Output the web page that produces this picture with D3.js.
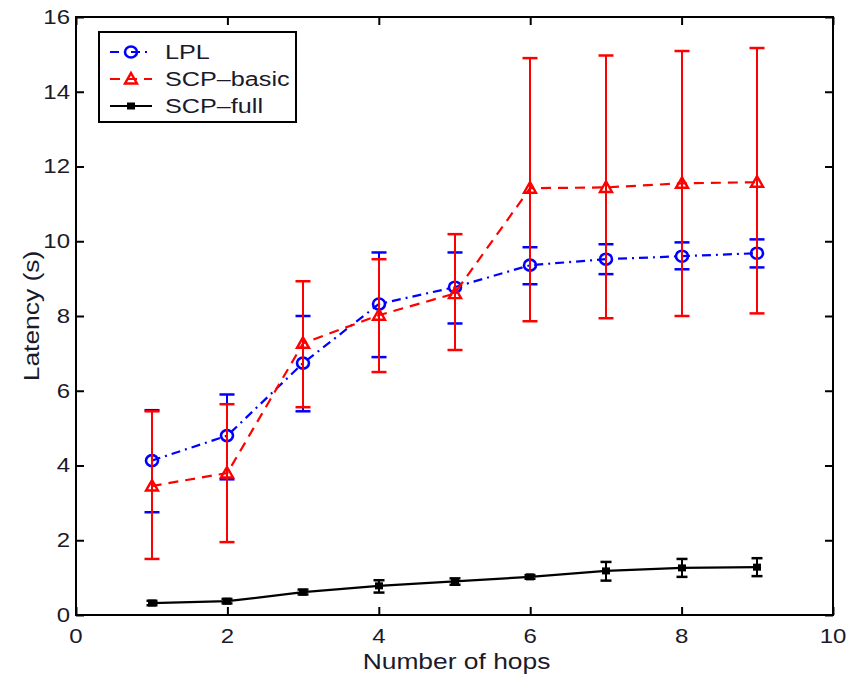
<!DOCTYPE html>
<html>
<head>
<meta charset="utf-8">
<script src="https://cdn.jsdelivr.net/npm/d3@7"></script>
<style>
  body { margin: 0; background: #fff; }
  text { font-family: "Liberation Sans", Arial, sans-serif; fill: #1a1a2a; }
</style>
</head>
<body>
<div id="viz"></div>
<script>
var hops = [1, 2, 3, 4, 5, 6, 7, 8, 9];

var lplMean = [4.13, 4.8, 6.74, 8.32, 8.77, 9.36, 9.52, 9.6, 9.68];
var lplLow  = [2.75, 3.63, 5.45, 6.9, 7.8, 8.85, 9.12, 9.25, 9.3];
var lplHigh = [5.48, 5.9, 8.0, 9.7, 9.7, 9.84, 9.92, 9.97, 10.05];

var basicMean = [3.45, 3.8, 7.27, 8.02, 8.6, 11.42, 11.44, 11.55, 11.58];
var basicLow  = [1.5, 1.95, 5.56, 6.5, 7.09, 7.86, 7.94, 8.0, 8.07];
var basicHigh = [5.45, 5.64, 8.93, 9.52, 10.19, 14.9, 14.97, 15.09, 15.17];

var fullMean = [0.32, 0.37, 0.61, 0.78, 0.9, 1.02, 1.18, 1.26, 1.28];
var fullLow  = [0.26, 0.31, 0.55, 0.6, 0.81, 0.97, 0.92, 1.02, 1.04];
var fullHigh = [0.38, 0.43, 0.68, 0.93, 0.98, 1.07, 1.42, 1.5, 1.52];

var xTicks = [0, 2, 4, 6, 8, 10];
var yTicks = [0, 2, 4, 6, 8, 10, 12, 14, 16];
var seriesNames = ["LPL", "SCP\u2013basic", "SCP\u2013full"];

var W = 850, H = 675;
var plotL = 76, plotR = 833, plotT = 17, plotB = 615;
var stretch = 1.2;   // the original text is a bit wide

var x = d3.scaleLinear().domain([0, 10]).range([plotL, plotR]);
var y = d3.scaleLinear().domain([0, 16]).range([plotB, plotT]);

var svg = d3.select("#viz").append("svg").attr("width", W).attr("height", H);

// stretched text helper
function label(g, tx, ty, str, size, anchor, rot) {
    var t = g.append("g")
        .attr("transform", "translate(" + tx + "," + ty + ")" + (rot ? " rotate(" + rot + ")" : "") + " scale(" + stretch + ",1)")
        .append("text")
        .attr("text-anchor", anchor)
        .attr("dominant-baseline", "central")
        .attr("font-size", size)
        .text(str);
    return t;
}

// axes, ticks pointing inward on all four sides
var ax = svg.append("g");
ax.append("g").attr("transform", "translate(0," + plotB + ")")
    .call(d3.axisBottom(x).tickValues(xTicks).tickSize(-8).tickFormat(""));
ax.append("g").attr("transform", "translate(0," + plotT + ")")
    .call(d3.axisTop(x).tickValues(xTicks).tickSize(-8).tickFormat(""));
ax.append("g").attr("transform", "translate(" + plotL + ",0)")
    .call(d3.axisLeft(y).tickValues(yTicks).tickSize(-8).tickFormat(""));
ax.append("g").attr("transform", "translate(" + plotR + ",0)")
    .call(d3.axisRight(y).tickValues(yTicks).tickSize(-8).tickFormat(""));
ax.selectAll(".domain").remove();
ax.selectAll("line").attr("stroke", "#000").attr("stroke-width", 2);
ax.append("rect")
    .attr("x", plotL).attr("y", plotT)
    .attr("width", plotR - plotL).attr("height", plotB - plotT)
    .attr("fill", "none").attr("stroke", "#000").attr("stroke-width", 2);

var lab = svg.append("g");
xTicks.forEach(function(v) { label(lab, x(v), 636, v, 20, "middle"); });
yTicks.forEach(function(v) { label(lab, 70, y(v), v, 20, "end"); });
label(lab, (plotL + plotR) / 2 + 2, 661, "Number of hops", 22, "middle");
label(lab, 31, (plotT + plotB) / 2, "Latency (s)", 22, "middle", -90);

var series = [
    {name: seriesNames[0], mean: lplMean, low: lplLow, high: lplHigh, color: "#0000ff", dash: "9,5,2,5", marker: "circle", cap: 15},
    {name: seriesNames[1], mean: basicMean, low: basicLow, high: basicHigh, color: "#ff0000", dash: "10,7", marker: "triangle", cap: 15},
    {name: seriesNames[2], mean: fullMean, low: fullLow, high: fullHigh, color: "#000000", dash: null, marker: "x", cap: 11}
];

function drawMarker(g, kind, cx, cy, color) {
    if (kind == "circle") {
        g.append("ellipse").attr("cx", cx).attr("cy", cy).attr("rx", 6).attr("ry", 5.5)
            .attr("fill", "none").attr("stroke", color).attr("stroke-width", 2.6);
    } else if (kind == "triangle") {
        g.append("path")
            .attr("d", "M" + cx + "," + (cy - 6) + "L" + (cx + 6) + "," + (cy + 4.5) + "L" + (cx - 6) + "," + (cy + 4.5) + "Z")
            .attr("fill", "none").attr("stroke", color).attr("stroke-width", 2.4);
    } else {
        g.append("rect").attr("x", cx - 4).attr("y", cy - 3.5).attr("width", 8).attr("height", 7)
            .attr("fill", color);
    }
}

var line = d3.line().x(function(d, i) { return x(hops[i]); }).y(function(d) { return y(d); });

// draw black first, then blue, red on top
[2, 0, 1].forEach(function(k) {
    var s = series[k];
    var g = svg.append("g");
    hops.forEach(function(h, i) {
        var px = Math.round(x(h));
        g.append("line").attr("x1", px).attr("x2", px)
            .attr("y1", y(s.low[i])).attr("y2", y(s.high[i]))
            .attr("stroke", s.color).attr("stroke-width", 2);
        [s.low[i], s.high[i]].forEach(function(v) {
            g.append("line").attr("x1", px - s.cap / 2).attr("x2", px + s.cap / 2)
                .attr("y1", y(v)).attr("y2", y(v))
                .attr("stroke", s.color).attr("stroke-width", 2.5);
        });
    });
    g.append("path").datum(s.mean).attr("d", line)
        .attr("fill", "none").attr("stroke", s.color).attr("stroke-width", 2.2)
        .attr("stroke-dasharray", s.dash);
    s.mean.forEach(function(v, i) { drawMarker(g, s.marker, Math.round(x(hops[i])), y(v), s.color); });
});

// legend
var lg = svg.append("g");
lg.append("rect").attr("x", 99).attr("y", 32).attr("width", 197).attr("height", 90)
    .attr("fill", "#fff").attr("stroke", "#000").attr("stroke-width", 2);
series.forEach(function(s, i) {
    var ly = 52 + i * 27;
    lg.append("line").attr("x1", 110).attr("x2", 152).attr("y1", ly).attr("y2", ly)
        .attr("stroke", s.color).attr("stroke-width", 2.2).attr("stroke-dasharray", s.dash);
    drawMarker(lg, s.marker, 131, ly, s.color);
    label(lg, 165, ly, s.name, 21, "start");
});
</script>
</body>
</html>
